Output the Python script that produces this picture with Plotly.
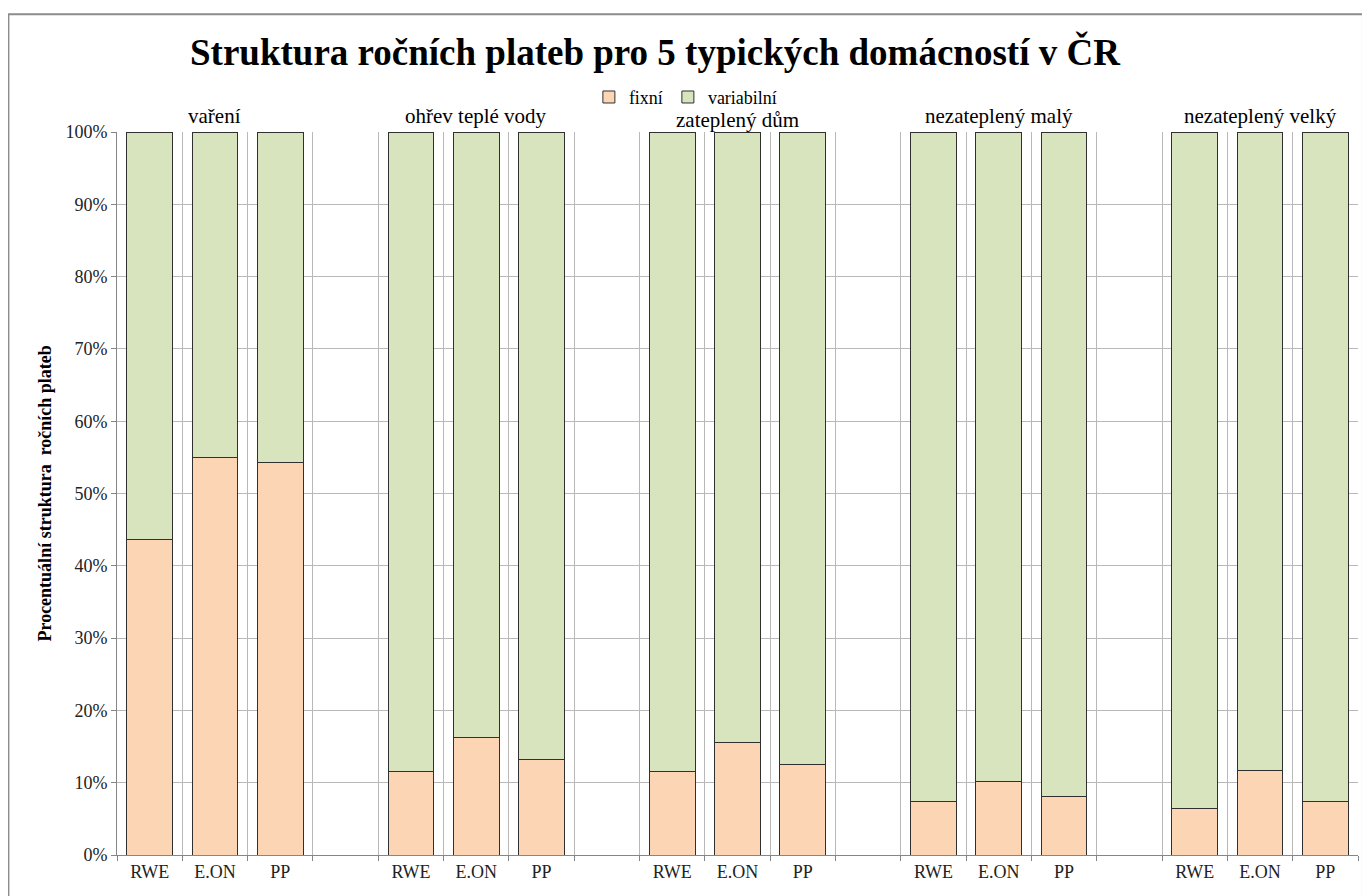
import plotly.graph_objects as go

# Data (share of fixed part, %)
households = ["vaření", "ohřev teplé vody", "zateplený dům", "nezateplený malý", "nezateplený velký"]
suppliers = ["RWE", "E.ON", "PP"]
fixni = [
    [43.7, 55.0, 54.3],
    [11.6, 16.3, 13.2],
    [11.5, 15.5, 12.5],
    [7.4, 10.1, 8.1],
    [6.5, 11.7, 7.4],
]
variabilni = [[100 - v for v in row] for row in fixni]

ORANGE = "#fcd5b5"
GREEN = "#d7e4bd"
FONT = "Liberation Serif"
GRID = "#b8b8b8"

# each household gets 3 bars followed by one empty slot
slot = len(suppliers) + 1
xs, fx, vx, labels = [], [], [], []
for g, name in enumerate(households):
    for s, sup in enumerate(suppliers):
        xs.append(g * slot + s)
        fx.append(fixni[g][s])
        vx.append(variabilni[g][s])
        labels.append(sup)
n_slots = len(households) * slot - 1

fig = go.Figure()
fig.add_trace(go.Bar(
    x=xs, y=fx, name="fixní", width=0.7,
    marker=dict(color=ORANGE, line=dict(color="#303030", width=1)),
))
fig.add_trace(go.Bar(
    x=xs, y=vx, name="variabilní", width=0.7,
    marker=dict(color=GREEN, line=dict(color="#303030", width=1)),
))

# second x axis only to draw the boundary grid/ticks between categories
fig.add_trace(go.Scatter(x=[-0.5, n_slots - 0.5], y=[0, 0], xaxis="x2",
                         mode="lines", line=dict(width=0), showlegend=False,
                         hoverinfo="skip"))

# household labels above the middle bar of each group
for g, name in enumerate(households):
    fig.add_annotation(
        x=g * slot + 1, y=1.0, xref="x", yref="paper",
        yanchor="bottom", yshift=2 if g != 2 else -2,
        text=name, showarrow=False,
        font=dict(family=FONT, size=21, color="#000"),
    )

fig.add_annotation(
    x=-0.0588, y=0.5, xref="paper", yref="paper", xanchor="center", yanchor="middle",
    text="<b>Procentuální struktura  ročních plateb</b>", textangle=-90,
    showarrow=False, font=dict(family=FONT, size=18, color="#000"),
)

fig.add_shape(type="rect", xref="paper", yref="paper",
              x0=-0.0875, x1=1.004, y0=-0.08, y1=1.163,
              line=dict(color="#8c8c8c", width=2), layer="below")

fig.update_layout(
    width=1362, height=888,
    barmode="stack",
    paper_bgcolor="white", plot_bgcolor="white",
    margin=dict(l=109, r=12, t=124, b=41),
    font=dict(family=FONT, color="#333"),
    title=dict(text="<b>Struktura ročních plateb pro 5 typických domácností v ČR</b>",
               x=0.475, xanchor="center", y=0.95, yanchor="middle",
               font=dict(family=FONT, size=37, color="#000")),
    showlegend=True,
    legend=dict(orientation="h", x=0.458, xanchor="center", y=1.048, yanchor="middle",
                traceorder="normal",
                font=dict(family=FONT, size=18, color="#000"),
                bgcolor="rgba(0,0,0,0)", itemwidth=30, tracegroupgap=0),
    xaxis=dict(range=[-0.5, n_slots - 0.5], tickvals=xs, ticktext=labels,
               showgrid=False, ticks="", showline=True, linecolor="#868686",
               tickfont=dict(family=FONT, size=18, color="#222")),
    xaxis2=dict(overlaying="x", matches="x", side="bottom",
                tickvals=[i - 0.5 for i in range(n_slots + 1)],
                showticklabels=False, showgrid=True, gridcolor=GRID, gridwidth=1,
                ticks="outside", ticklen=5, tickcolor="#868686"),
    yaxis=dict(range=[0, 100], dtick=10, ticksuffix="%", showgrid=True,
               gridcolor=GRID, gridwidth=1, showline=True, linecolor="#868686",
               ticks="outside", ticklen=5, tickcolor="#868686",
               tickfont=dict(family=FONT, size=18, color="#222"), zeroline=False),
    bargap=0.3,
)

fig.write_html("out.html")
